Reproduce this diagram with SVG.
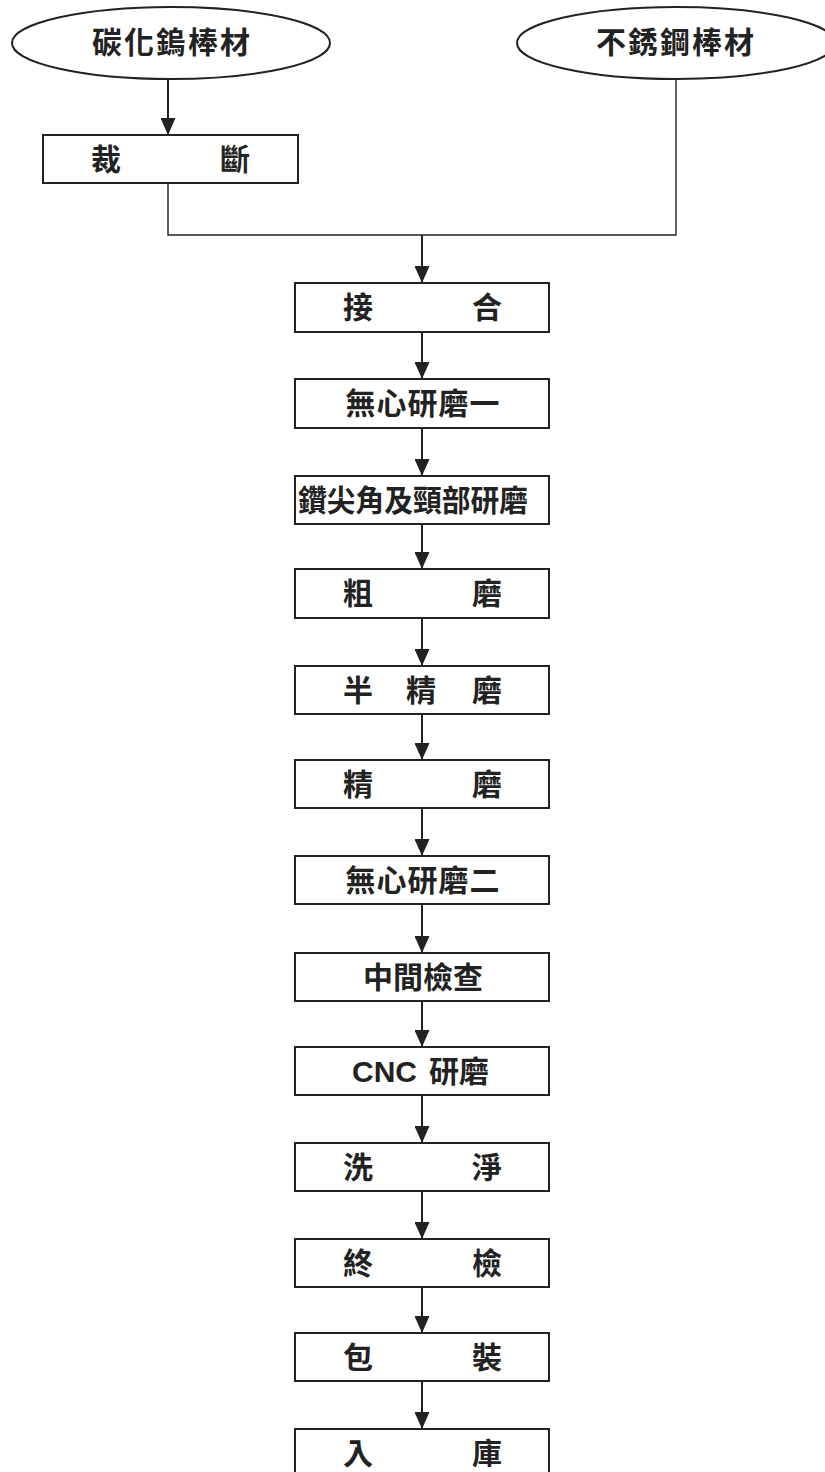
<svg xmlns="http://www.w3.org/2000/svg" width="825" height="1472" viewBox="0 0 825 1472">
<defs>
<style>
.node{fill:#fff;stroke:#222;stroke-width:2}
.t{font-family:"Noto Sans CJK TC","Noto Sans CJK SC",sans-serif;font-size:30px;font-weight:bold;fill:#222}
.c{text-anchor:middle}
.ln{fill:none;stroke:#222;stroke-width:2}
.thin{fill:none;stroke:#222;stroke-width:1.4}
</style>
<marker id="ah" markerUnits="userSpaceOnUse" markerWidth="17" markerHeight="15" refX="17" refY="7.5" orient="auto">
<path d="M0,0 L17,7.5 L0,15 z" fill="#222"/>
</marker>
</defs>
<rect width="825" height="1472" fill="#fff"/>
<g id="connectors">
<line class="ln" x1="168" y1="79" x2="168" y2="135" marker-end="url(#ah)"/>
<polyline class="thin" points="168,183 168,235 676,235 676,79"/>
<line class="ln" x1="422" y1="235" x2="422" y2="283" marker-end="url(#ah)"/>
<line class="ln" x1="422" y1="332" x2="422" y2="379" marker-end="url(#ah)"/>
<line class="ln" x1="422" y1="428" x2="422" y2="476" marker-end="url(#ah)"/>
<line class="ln" x1="422" y1="524" x2="422" y2="569" marker-end="url(#ah)"/>
<line class="ln" x1="422" y1="618" x2="422" y2="666" marker-end="url(#ah)"/>
<line class="ln" x1="422" y1="714" x2="422" y2="760" marker-end="url(#ah)"/>
<line class="ln" x1="422" y1="808" x2="422" y2="856" marker-end="url(#ah)"/>
<line class="ln" x1="422" y1="904" x2="422" y2="953" marker-end="url(#ah)"/>
<line class="ln" x1="422" y1="1001" x2="422" y2="1047" marker-end="url(#ah)"/>
<line class="ln" x1="422" y1="1095" x2="422" y2="1143" marker-end="url(#ah)"/>
<line class="ln" x1="422" y1="1191" x2="422" y2="1239" marker-end="url(#ah)"/>
<line class="ln" x1="422" y1="1287" x2="422" y2="1333" marker-end="url(#ah)"/>
<line class="ln" x1="422" y1="1381" x2="422" y2="1429" marker-end="url(#ah)"/>
</g>
<g id="n-tungsten"><ellipse class="node" cx="171" cy="43" rx="159" ry="36"/><text class="t c" x="172" y="53" letter-spacing="2">碳化鎢棒材</text></g>
<g id="n-stainless"><ellipse class="node" cx="676" cy="43" rx="159" ry="36"/><text class="t c" x="676" y="53" letter-spacing="2">不銹鋼棒材</text></g>
<g id="n-cut"><rect class="node" x="43" y="135" width="255" height="48"/><text class="t c" x="106 235" y="170">裁斷</text></g>
<g id="n-join"><rect class="node" x="295" y="283" width="254" height="49"/><text class="t c" x="358 487" y="318">接合</text></g>
<g id="n-cg1"><rect class="node" x="295" y="379" width="254" height="49"/><text class="t c" x="423" y="414" letter-spacing="1">無心研磨一</text></g>
<g id="n-tip"><rect class="node" x="295" y="476" width="254" height="48"/><text class="t" x="298" y="511" textLength="230" lengthAdjust="spacingAndGlyphs">鑽尖角及頸部研磨</text></g>
<g id="n-rough"><rect class="node" x="295" y="569" width="254" height="49"/><text class="t c" x="358 487" y="604">粗磨</text></g>
<g id="n-semi"><rect class="node" x="295" y="666" width="254" height="48"/><text class="t c" x="358 421 487" y="701">半精磨</text></g>
<g id="n-fine"><rect class="node" x="295" y="760" width="254" height="48"/><text class="t c" x="358 487" y="795">精磨</text></g>
<g id="n-cg2"><rect class="node" x="295" y="856" width="254" height="48"/><text class="t c" x="423" y="891" letter-spacing="1">無心研磨二</text></g>
<g id="n-mid"><rect class="node" x="295" y="953" width="254" height="48"/><text class="t c" x="423" y="988">中間檢查</text></g>
<g id="n-cnc"><rect class="node" x="295" y="1047" width="254" height="48"/><text class="t" x="352" y="1082"><tspan font-family="'Liberation Sans',Arial,sans-serif" font-size="30">CNC</tspan><tspan x="429">研磨</tspan></text></g>
<g id="n-wash"><rect class="node" x="295" y="1143" width="254" height="48"/><text class="t c" x="358 487" y="1178">洗淨</text></g>
<g id="n-final"><rect class="node" x="295" y="1239" width="254" height="48"/><text class="t c" x="358 487" y="1274">終檢</text></g>
<g id="n-pack"><rect class="node" x="295" y="1333" width="254" height="48"/><text class="t c" x="358 487" y="1368">包裝</text></g>
<g id="n-store"><rect class="node" x="295" y="1429" width="254" height="48"/><text class="t c" x="358 487" y="1464">入庫</text></g>
</svg>
